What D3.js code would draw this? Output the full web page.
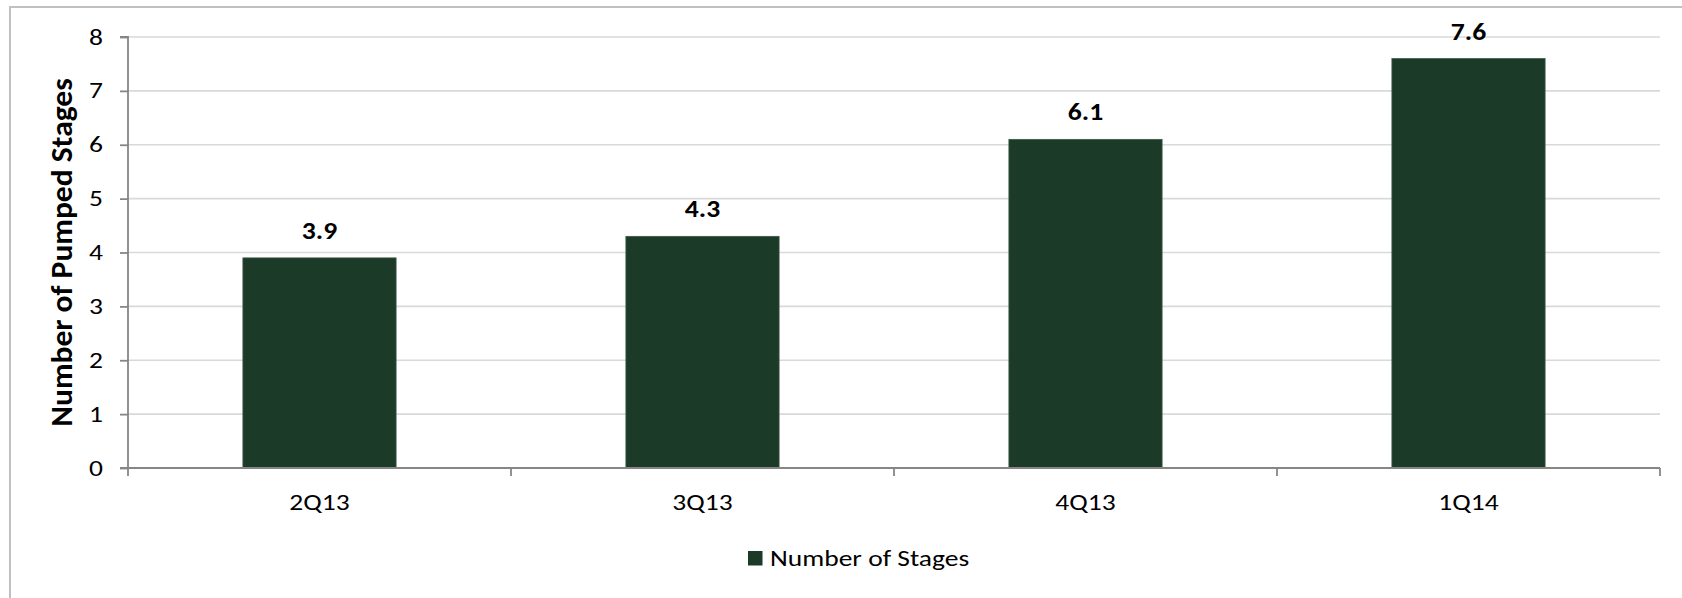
<!DOCTYPE html>
<html>
<head>
<meta charset="utf-8">
<script src="https://cdn.jsdelivr.net/npm/d3@7"></script>
<style>
  html, body { margin: 0; padding: 0; background: #ffffff; }
  svg { display: block; }
  text { font-family: Calibri, Carlito, Lato, sans-serif; fill: #000; }
</style>
</head>
<body>
<svg id="chart" width="1682" height="598"></svg>
<script>
// Pumped stages per well, by quarter
const quarters = ["2Q13", "3Q13", "4Q13", "1Q14"];
const stages = [3.9, 4.3, 6.1, 7.6];
const yTicks = [0, 1, 2, 3, 4, 5, 6, 7, 8];
const seriesName = "Number of Stages";
const yTitle = "Number of Pumped Stages";

const W = 1682, H = 598;
const plot = { left: 128, right: 1660, top: 37, bottom: 468 };
const barColor = "#1c3a28";
const axisColor = "#868686";
const gridColor = "#d9d9d9";
const sx = 1.28; // horizontal stretch of the typeface

const svg = d3.select("#chart");
svg.append("rect").attr("width", W).attr("height", H).attr("fill", "#fff");

// chart frame
svg.append("rect")
  .attr("x", 10).attr("y", 7)
  .attr("width", W + 20).attr("height", H + 20)
  .attr("fill", "none").attr("stroke", "#c0c0c0").attr("stroke-width", 2);

const x = d3.scaleBand()
  .domain(quarters)
  .range([plot.left, plot.right])
  .paddingInner(0.6)
  .paddingOuter(0.3);

const y = d3.scaleLinear()
  .domain([0, 8])
  .range([plot.bottom, plot.top]);

// helper: text with a horizontal stretch around its anchor point
function label(g, txt, px, py, opts) {
  const o = Object.assign({ size: 21.5, weight: "normal", anchor: "middle", scale: sx }, opts || {});
  return g.append("text")
    .attr("transform", `translate(${px},${py}) scale(${o.scale},1)`)
    .attr("text-anchor", o.anchor)
    .attr("font-size", o.size)
    .attr("font-weight", o.weight)
    .text(txt);
}

// horizontal gridlines
svg.append("g")
  .selectAll("line")
  .data(yTicks.filter(d => d > 0))
  .join("line")
  .attr("x1", plot.left).attr("x2", plot.right)
  .attr("y1", d => y(d)).attr("y2", d => y(d))
  .attr("stroke", gridColor).attr("stroke-width", 1.6);

// bars
svg.append("g")
  .selectAll("rect")
  .data(quarters)
  .join("rect")
  .attr("x", d => x(d))
  .attr("width", x.bandwidth())
  .attr("y", (d, i) => y(stages[i]))
  .attr("height", (d, i) => y(0) - y(stages[i]))
  .attr("fill", barColor)
  .attr("stroke", "#3f5a48")
  .attr("stroke-width", 0.8);

// y axis
const yAxis = d3.axisLeft(y).tickValues(yTicks).tickSize(8).tickFormat("");
const yg = svg.append("g").attr("transform", `translate(${plot.left},0)`).call(yAxis);
yg.select(".domain").attr("stroke", axisColor).attr("stroke-width", 1.8).attr("d", `M-8,${plot.top}H0V${plot.bottom}H-8`);
yg.selectAll(".tick line").attr("stroke", axisColor).attr("stroke-width", 1.8);

const yLab = svg.append("g");
yTicks.forEach(t => label(yLab, String(t), 103, y(t) + 7.5, { anchor: "end" }));

// x axis with boundary ticks
const xg = svg.append("g");
xg.append("line")
  .attr("x1", plot.left).attr("x2", plot.right)
  .attr("y1", plot.bottom).attr("y2", plot.bottom)
  .attr("stroke", axisColor).attr("stroke-width", 1.8);
const step = x.step();
const bounds = d3.range(quarters.length + 1).map(i => plot.left + i * step);
xg.selectAll("line.b")
  .data(bounds)
  .join("line")
  .attr("class", "b")
  .attr("x1", d => d).attr("x2", d => d)
  .attr("y1", plot.bottom).attr("y2", plot.bottom + 8)
  .attr("stroke", axisColor).attr("stroke-width", 1.8);

const xLab = svg.append("g");
quarters.forEach(q => label(xLab, q, x(q) + x.bandwidth() / 2, 510));

// value labels
const vLab = svg.append("g");
quarters.forEach((q, i) =>
  label(vLab, d3.format(".1f")(stages[i]), x(q) + x.bandwidth() / 2, y(stages[i]) - 19,
    { size: 24, weight: "bold", scale: 1.15 }));

// y axis title
svg.append("text")
  .attr("transform", `translate(72,${(plot.top + plot.bottom) / 2}) scale(0.95,1) rotate(-90)`)
  .attr("text-anchor", "middle")
  .attr("font-size", 31.5)
  .attr("font-weight", "bold")
  .text(yTitle);

// legend
const lg = svg.append("g");
lg.append("rect")
  .attr("x", 748).attr("y", 551)
  .attr("width", 14.5).attr("height", 14.5)
  .attr("fill", barColor);
label(lg, seriesName, 770, 565.5, { anchor: "start" });
</script>
</body>
</html>
